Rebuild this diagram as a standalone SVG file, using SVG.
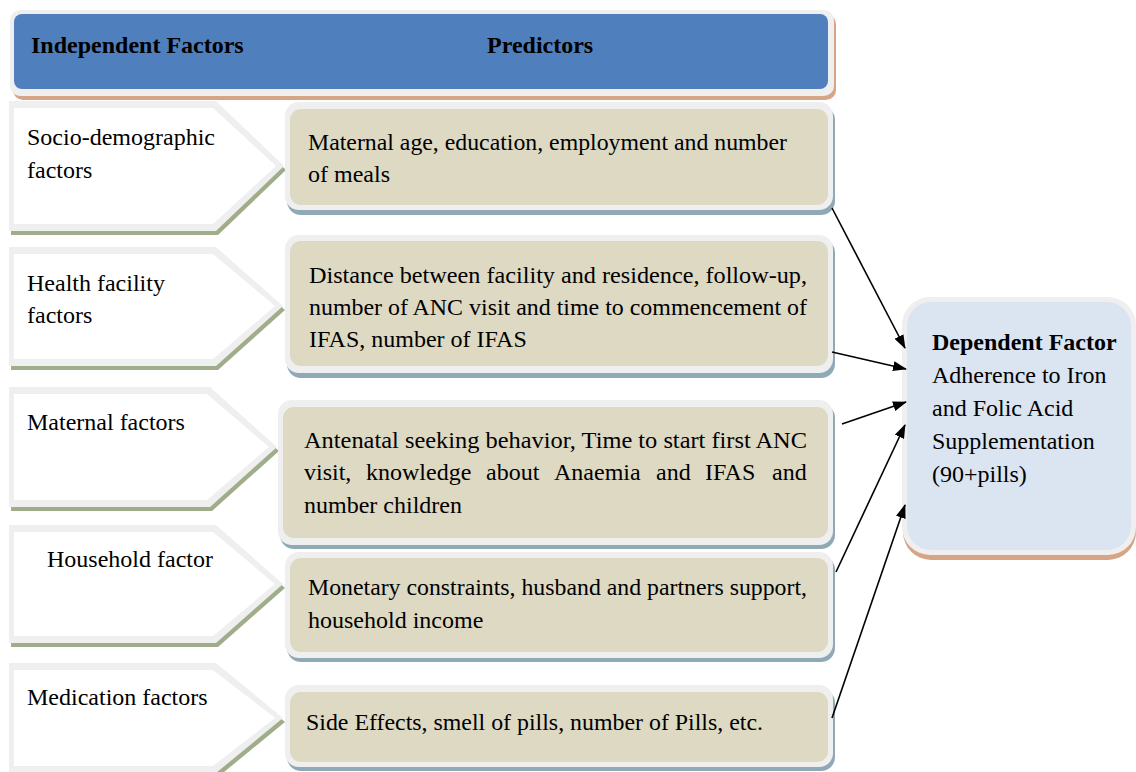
<svg xmlns="http://www.w3.org/2000/svg" width="1136" height="772" viewBox="0 0 1136 772">
<defs>
<style>
text{font-family:"Liberation Serif","Times New Roman",serif;font-size:24px;fill:#000}
.b{font-weight:bold}
.chg{fill:#efefef}
.chw{fill:#ffffff}
.chs{fill:#9fad8a}
.pg{fill:#efefef}
.pt{fill:#ddd9c3}
.ps{fill:#8fa9b6}
.conn{stroke:#000;stroke-width:1.6;fill:none;marker-end:url(#ah)}
</style>
<marker id="ah" viewBox="0 0 14 10" refX="13" refY="5" markerWidth="14" markerHeight="10" markerUnits="userSpaceOnUse" orient="auto">
<path d="M0,0 L14,5 L0,10 Z" fill="#000"/>
</marker>
</defs>
<rect width="1136" height="772" fill="#ffffff"/>

<g id="header">
<rect x="13" y="14" width="823" height="86" rx="10" fill="#d6a588"/>
<rect x="10" y="10" width="824" height="86" rx="10" fill="#efefef"/>
<rect x="14" y="14" width="814" height="75" rx="8" fill="#4f7fbc"/>
<text class="b" x="31" y="53">Independent Factors</text>
<text class="b" x="487" y="53">Predictors</text>
</g>

<g id="factor-socio">
<polygon class="chs" points="11,105 218,105 286,170 218,235 11,235"/>
<polygon class="chg" points="9,101 216,101 284,166 216,231 9,231"/>
<polygon class="chw" points="14,108 213,108 276,166 213,224 14,224"/>
<text x="27" y="145">Socio-demographic</text>
<text x="27" y="178">factors</text>
</g>

<g id="factor-health">
<polygon class="chs" points="11,251 218,251 285,310 218,370 11,370"/>
<polygon class="chg" points="9,247 216,247 283,306 216,366 9,366"/>
<polygon class="chw" points="14,254 213,254 275,306 213,359 14,359"/>
<text x="27" y="291">Health facility</text>
<text x="27" y="323">factors</text>
</g>

<g id="factor-maternal">
<polygon class="chs" points="11,391 212,391 279,451 212,511 11,511"/>
<polygon class="chg" points="9,387 210,387 277,447 210,507 9,507"/>
<polygon class="chw" points="14,394 207,394 269,447 207,500 14,500"/>
<text x="27" y="430">Maternal factors</text>
</g>

<g id="factor-household">
<polygon class="chs" points="11,529 218,529 285,588 218,647 11,647"/>
<polygon class="chg" points="9,525 216,525 283,584 216,643 9,643"/>
<polygon class="chw" points="14,532 213,532 275,584 213,636 14,636"/>
<text x="47" y="567">Household factor</text>
</g>

<g id="factor-medication">
<polygon class="chs" points="11,667 218,667 285,722 218,777 11,777"/>
<polygon class="chg" points="9,663 216,663 283,718 216,773 9,773"/>
<polygon class="chw" points="14,670 213,670 275,718 213,766 14,766"/>
<text x="27" y="705">Medication factors</text>
</g>

<g id="pred-socio">
<rect class="ps" x="287" y="106" width="548" height="109" rx="14"/>
<rect class="pg" x="285" y="102" width="548" height="108" rx="14"/>
<rect class="pt" x="290" y="109" width="538" height="96" rx="11"/>
<text x="308" y="150" textLength="479" lengthAdjust="spacingAndGlyphs">Maternal age, education, employment and number</text>
<text x="308" y="182">of meals</text>
</g>

<g id="pred-health">
<rect class="ps" x="287" y="239" width="548" height="139" rx="14"/>
<rect class="pg" x="285" y="235" width="548" height="138" rx="14"/>
<rect class="pt" x="290" y="241" width="538" height="125" rx="11"/>
<text x="309" y="283" textLength="498" lengthAdjust="spacingAndGlyphs">Distance between facility and residence, follow-up,</text>
<text x="309" y="315" textLength="498" lengthAdjust="spacingAndGlyphs">number of ANC visit and time to commencement of</text>
<text x="309" y="347">IFAS, number of IFAS</text>
</g>

<g id="pred-maternal">
<rect class="ps" x="280" y="404" width="555" height="145" rx="14"/>
<rect class="pg" x="278" y="400" width="555" height="145" rx="14"/>
<rect class="pt" x="283" y="407" width="545" height="131" rx="11"/>
<text x="304" y="448" textLength="503" lengthAdjust="spacingAndGlyphs">Antenatal seeking behavior, Time to start first ANC</text>
<text y="480"><tspan x="304">visit,</tspan><tspan x="366">knowledge</tspan><tspan x="486">about</tspan><tspan x="554">Anaemia</tspan><tspan x="656">and</tspan><tspan x="705">IFAS</tspan><tspan x="772">and</tspan></text>
<text x="304" y="513">number children</text>
</g>

<g id="pred-household">
<rect class="ps" x="287" y="556" width="548" height="106" rx="14"/>
<rect class="pg" x="285" y="552" width="548" height="106" rx="14"/>
<rect class="pt" x="290" y="558" width="538" height="94" rx="11"/>
<text x="308" y="595" textLength="499" lengthAdjust="spacingAndGlyphs">Monetary constraints, husband and partners support,</text>
<text x="308" y="628">household income</text>
</g>

<g id="pred-medication">
<rect class="ps" x="287" y="689" width="548" height="82" rx="14"/>
<rect class="pg" x="285" y="685" width="548" height="82" rx="14"/>
<rect class="pt" x="290" y="692" width="538" height="70" rx="11"/>
<text x="306" y="730" textLength="457" lengthAdjust="spacingAndGlyphs">Side Effects, smell of pills, number of Pills, etc.</text>
</g>

<g id="dependent">
<rect x="903" y="302" width="233" height="258" rx="28" fill="#d6a588"/>
<rect x="902" y="297" width="234" height="258" rx="28" fill="#efefef"/>
<rect x="907" y="302" width="224" height="248" rx="24" fill="#dbe5f1"/>
<text class="b" x="932" y="350">Dependent Factor</text>
<text x="932" y="383">Adherence to Iron</text>
<text x="932" y="416">and Folic Acid</text>
<text x="932" y="449">Supplementation</text>
<text x="932" y="482">(90+pills)</text>
</g>

<g id="connectors">
<line class="conn" x1="832" y1="208" x2="905" y2="348"/>
<line class="conn" x1="832" y1="352" x2="906" y2="369"/>
<line class="conn" x1="842" y1="424" x2="906" y2="402"/>
<line class="conn" x1="836" y1="572" x2="905" y2="425"/>
<line class="conn" x1="832" y1="718" x2="905" y2="505"/>
</g>
</svg>
